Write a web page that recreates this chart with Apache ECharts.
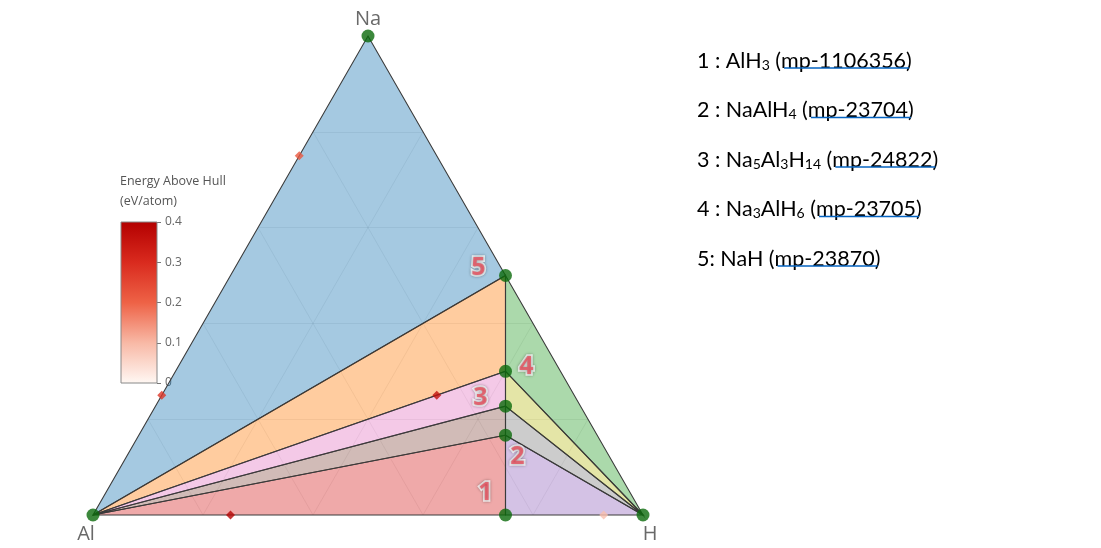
<!DOCTYPE html>
<html><head><meta charset="utf-8">
<script src="https://cdn.jsdelivr.net/npm/echarts@6/dist/echarts.min.js"></script>
<style>html,body{margin:0;padding:0;background:#fff}#c{width:1101px;height:548px}</style>
</head><body><div id="c"></div>
<script>
// ---------- DATA ----------
// compositions as atom counts [Al, H, Na]
const stableNames = ['Al', 'H', 'Na', 'AlH3', 'NaAlH4', 'Na5Al3H14', 'Na3AlH6', 'NaH'];
const stableAl = [1, 0, 0, 1, 1, 3, 1, 0];
const stableH  = [0, 1, 0, 3, 4, 14, 6, 1];
const stableNa = [0, 0, 1, 0, 1, 5, 3, 1];
// hull facets (indices into stable arrays)
const facets = [[0, 2, 7], [0, 7, 6], [6, 7, 1], [0, 4, 3], [3, 4, 1], [0, 5, 4], [0, 6, 5], [4, 5, 1], [5, 6, 1]];
const numberedNames = ['AlH3', 'NaAlH4', 'Na5Al3H14', 'Na3AlH6', 'NaH'];
const numberLabels = ['1', '2', '3', '4', '5'];
// unstable entries
const unstableAl = [3, 1, 3, 1, 1];
const unstableH  = [0, 0, 1, 2, 13];
const unstableNa = [1, 3, 0, 1, 0];
const unstableE  = [0.28, 0.22, 0.39, 0.36, 0.09];
// ternary grid fractions
const gridFractions = [0.2, 0.4, 0.6, 0.8];
// colorbar
const cbMin = 0, cbMax = 0.4, cbStep = 0.1;
// legend text
const legendNums = ['1 : ', '2 : ', '3 : ', '4 : ', '5: '];
const legendFormulas = [
  [['AlH', 'n'], ['3', 's']],
  [['NaAlH', 'n'], ['4', 's']],
  [['Na', 'n'], ['5', 's'], ['Al', 'n'], ['3', 's'], ['H', 'n'], ['14', 's']],
  [['Na', 'n'], ['3', 's'], ['AlH', 'n'], ['6', 's']],
  [['NaH', 'n']]
];
const legendIds = ['mp-1106356', 'mp-23704', 'mp-24822', 'mp-23705', 'mp-23870'];

// ---------- STYLE ----------
const facetColors = ['#1f77b4', '#ff7f0e', '#2ca02c', '#d62728', '#9467bd', '#8c564b', '#e377c2', '#7f7f7f', '#bcbd22'];
const facetAlpha = 0.4;
const cbColors = ['#fff8f4', '#f8b9a6', '#ee6246', '#d92a1e', '#b30000'];
const numberOffsets = { AlH3: [-20, -22], NaAlH4: [12, 22], Na5Al3H14: [-25, -8], Na3AlH6: [21, -4], NaH: [-27, -8] };
const vertexOffsets = { Al: [-7, 19], H: [7, 19], Na: [0, -17] };
const legendFont = 'Lato';
const legendSize = 21.5, legendSubSize = 14;
const legendX = 697, legendY0 = 59, legendDY = 49.5;
const underlineShift = 3;

// ---------- helpers ----------
const S3 = Math.sqrt(3) / 2;
function toXY(al, h, na) { const s = al + h + na; return [(h + na / 2) / s, na / s * S3]; }
function rgba(hex, a) {
  const n = parseInt(hex.slice(1), 16);
  return `rgba(${n >> 16},${(n >> 8) & 255},${n & 255},${a})`;
}
const stableXY = stableNames.map((n, i) => toXY(stableAl[i], stableH[i], stableNa[i]));
const idxOf = n => stableNames.indexOf(n);

const gridSegs = [];
gridFractions.forEach(f => {
  gridSegs.push({ coords: [toXY(1 - f, 0, f), toXY(0, 1 - f, f)] }); // Na const
  gridSegs.push({ coords: [toXY(1 - f, f, 0), toXY(0, f, 1 - f)] }); // H const
  gridSegs.push({ coords: [toXY(f, 1 - f, 0), toXY(f, 0, 1 - f)] }); // Al const
});

const chart = echarts.init(document.getElementById('c'), null, { renderer: 'canvas' });

// legend rich text
const richStyles = {
  n: { fontFamily: legendFont, fontSize: legendSize, color: '#000', lineHeight: 26, verticalAlign: 'bottom' },
  s: { fontFamily: legendFont, fontSize: legendSubSize, color: '#000', lineHeight: 16, verticalAlign: 'bottom' },
  a: { fontFamily: legendFont, fontSize: legendSize, color: '#0563c1', lineHeight: 26, verticalAlign: 'bottom' }
};
function richWidth(t) {
  const el = new echarts.graphic.Text({ style: { text: t, rich: richStyles } });
  return el.getBoundingRect().width;
}
const legendGraphics = [];
legendIds.forEach((id, i) => {
  const y = legendY0 + i * legendDY;
  let txt = `{n|${legendNums[i]}}`;
  legendFormulas[i].forEach(([t, s]) => { txt += `{${s}|${t}}`; });
  txt += `{n| (}`;
  const w = richWidth(txt);
  const linkTxt = `{a|${id}}`;
  const lw = richWidth(linkTxt);
  txt += linkTxt + `{n|)}`;
  legendGraphics.push({
    type: 'text', x: legendX, y: y, z: 10,
    style: { text: txt, rich: richStyles, verticalAlign: 'middle', align: 'left' }
  });
  legendGraphics.push({
    type: 'line', z: 10,
    shape: { x1: legendX + w + underlineShift, y1: y + 9, x2: legendX + w + lw + underlineShift, y2: y + 9 },
    style: { stroke: '#0563c1', lineWidth: 1.3 }
  });
});

const HS = 2; // hidden anchor symbol size
const hiddenSym = { symbol: 'circle', symbolSize: HS, itemStyle: { color: 'rgba(0,0,0,0)' } };
const posFrom = off => [HS / 2 + off[0], HS / 2 + off[1]];

const option = {
  backgroundColor: '#fff',
  animation: false,
  grid: [
    { left: 93, top: 36, width: 550, height: 479 },
    { left: 121, top: 222, width: 36, height: 161 }
  ],
  xAxis: [
    { gridIndex: 0, type: 'value', min: 0, max: 1, show: false },
    { gridIndex: 1, type: 'category', data: ['cb'], show: false }
  ],
  yAxis: [
    { gridIndex: 0, type: 'value', min: 0, max: S3, show: false },
    {
      gridIndex: 1, type: 'value', min: cbMin, max: cbMax, interval: cbStep, position: 'right',
      axisLine: { show: false }, splitLine: { show: false },
      axisTick: { show: true, length: 4, lineStyle: { color: '#777' } },
      axisLabel: { color: '#666', fontSize: 12, fontFamily: 'Open Sans', margin: 8 }
    }
  ],
  visualMap: {
    type: 'continuous', show: false, min: cbMin, max: cbMax, dimension: 2, seriesIndex: 4,
    inRange: { color: cbColors }
  },
  graphic: [
    {
      type: 'text', x: 120, y: 171, z: 10,
      style: { text: 'Energy Above Hull\n(eV/atom)', fontSize: 12.5, lineHeight: 20, fontFamily: 'Open Sans', fill: '#555' }
    },
    ...legendGraphics
  ],
  series: [
    {
      type: 'lines', coordinateSystem: 'cartesian2d', xAxisIndex: 0, yAxisIndex: 0, z: 1,
      data: gridSegs, silent: true,
      lineStyle: { color: 'rgba(60,60,60,0.09)', width: 1, opacity: 1 }
    },
    {
      type: 'custom', xAxisIndex: 0, yAxisIndex: 0, z: 2,
      data: facets.map(f => [0, 1].map(k => f.reduce((s, i) => s + stableXY[i][k], 0) / 3)),
      renderItem: (params, api) => {
        const f = facets[params.dataIndex];
        return {
          type: 'polygon',
          shape: { points: f.map(i => api.coord(stableXY[i])) },
          style: { fill: rgba(facetColors[params.dataIndex], facetAlpha), stroke: '#3a3a3a', lineWidth: 1.1 }
        };
      }
    },
    {
      type: 'custom', xAxisIndex: 1, yAxisIndex: 1, z: 2, data: [[0, cbMax]],
      renderItem: (params, api) => {
        const p0 = api.coord([0, cbMin]), p1 = api.coord([0, cbMax]);
        const bw = api.size([1, 0])[0];
        return {
          type: 'rect',
          shape: { x: p0[0] - bw / 2, y: p1[1], width: bw, height: p0[1] - p1[1] },
          style: {
            fill: new echarts.graphic.LinearGradient(0, 1, 0, 0,
              cbColors.map((c, i) => ({ offset: i / (cbColors.length - 1), color: c }))),
            stroke: '#888', lineWidth: 1
          }
        };
      }
    },
    {
      type: 'scatter', xAxisIndex: 0, yAxisIndex: 0, z: 5,
      symbol: 'circle', symbolSize: 13,
      itemStyle: { color: '#0b6a0b' },
      data: stableXY
    },
    {
      type: 'scatter', xAxisIndex: 0, yAxisIndex: 0, z: 5,
      symbol: 'diamond', symbolSize: 9,
      data: unstableE.map((e, i) => [...toXY(unstableAl[i], unstableH[i], unstableNa[i]), e])
    },
    Object.assign({
      type: 'scatter', xAxisIndex: 0, yAxisIndex: 0, z: 6, silent: true,
      data: numberedNames.map((n, k) => ({
        value: stableXY[idxOf(n)],
        label: {
          show: true, formatter: numberLabels[k], position: posFrom(numberOffsets[n]),
          align: 'center', verticalAlign: 'middle',
          fontSize: 25, fontWeight: 'bold', fontFamily: 'Open Sans', color: '#e9505e',
          textBorderColor: '#fff', textBorderWidth: 3.5,
          textShadowColor: 'rgba(0,0,0,0.4)', textShadowBlur: 3
        }
      }))
    }, hiddenSym),
    Object.assign({
      type: 'scatter', xAxisIndex: 0, yAxisIndex: 0, z: 6, silent: true,
      data: ['Al', 'H', 'Na'].map(n => ({
        value: stableXY[idxOf(n)],
        label: {
          show: true, formatter: n, position: posFrom(vertexOffsets[n]),
          align: 'center', verticalAlign: 'middle',
          fontSize: 20, fontFamily: 'Open Sans', color: '#444'
        }
      }))
    }, hiddenSym)
  ]
};
chart.setOption(option);
</script></body></html>
